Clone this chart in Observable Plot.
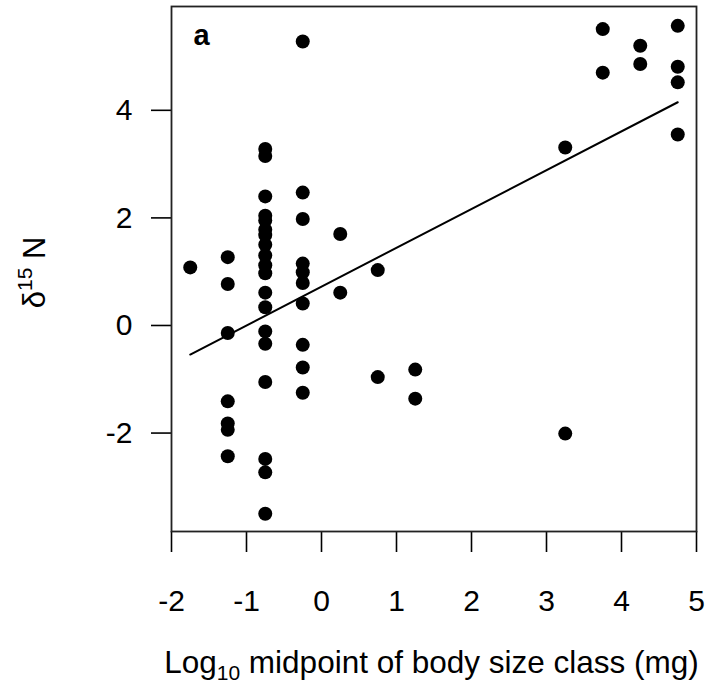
<!DOCTYPE html>
<html>
<head>
<meta charset="utf-8">
<script src="https://cdn.jsdelivr.net/npm/d3@7"></script>
<script src="https://cdn.jsdelivr.net/npm/@observablehq/plot@0.6"></script>
<style>
  html, body { margin: 0; padding: 0; background: #fff; }
  #chart svg { display: block; }
</style>
</head>
<body>
<div id="chart"></div>
<script>
// Body size class (log10 midpoint, mg) for each point
const sizeClass = [
  -1.75,
  -1.25, -1.25, -1.25, -1.25, -1.25, -1.25, -1.25,
  -0.75, -0.75, -0.75, -0.75, -0.75, -0.75, -0.75, -0.75, -0.75, -0.75,
  -0.75, -0.75, -0.75, -0.75, -0.75, -0.75, -0.75, -0.75, -0.75,
  -0.25, -0.25, -0.25, -0.25, -0.25, -0.25, -0.25, -0.25, -0.25, -0.25,
  0.25, 0.25,
  0.75, 0.75,
  1.25, 1.25,
  3.25, 3.25,
  3.75, 3.75,
  4.25, 4.25,
  4.75, 4.75, 4.75, 4.75
];
// delta 15N values
const d15N = [
  1.08,
  1.27, 0.77, -0.14, -1.41, -1.82, -1.94, -2.43,
  3.28, 3.15, 2.40, 2.04, 1.95, 1.78, 1.68, 1.50, 1.30, 1.12,
  0.97, 0.61, 0.34, -0.11, -0.34, -1.05, -2.48, -2.73, -3.50,
  5.28, 2.47, 1.98, 1.15, 0.99, 0.79, 0.41, -0.36, -0.78, -1.25,
  1.70, 0.61,
  1.03, -0.96,
  -0.82, -1.36,
  3.31, -2.01,
  5.51, 4.70,
  5.20, 4.86,
  5.57, 4.81, 4.52, 3.55
];
// fitted regression line (end points)
const fitX = [-1.75, 4.75];
const fitY = [-0.54, 4.15];
const xTicks = [-2, -1, 0, 1, 2, 3, 4, 5];
const yTicks = [-2, 0, 2, 4];
const panelLabel = ["a"];

const points = sizeClass.map((x, i) => ({x, y: d15N[i]}));
const fit = fitX.map((x, i) => ({x, y: fitY[i]}));

const W = 711, H = 686;
const mL = 171, mR = 15, mT = 6, mB = 155;
const fmt = d => d < 0 ? "-" + Math.abs(d) : String(d);

const chart = Plot.plot({
  width: W,
  height: H,
  marginLeft: mL,
  marginRight: mR,
  marginTop: mT,
  marginBottom: mB,
  style: {fontFamily: "'Liberation Sans', Arial, sans-serif", fontSize: "29px", color: "#000", background: "#fff"},
  x: {domain: [-2, 5]},
  y: {domain: [-3.83, 5.93]},
  marks: [
    Plot.axisX({ticks: xTicks, tickSize: 21, tickPadding: 37, label: null, tickFormat: fmt, fontSize: 30, strokeWidth: 1.6}),
    Plot.axisY({ticks: yTicks, tickSize: 20, tickPadding: 19, label: null, tickFormat: fmt, fontSize: 30, strokeWidth: 1.6}),
    Plot.frame({stroke: "#222", strokeWidth: 1.8}),
    Plot.line(fit, {x: "x", y: "y", stroke: "#000", strokeWidth: 2}),
    Plot.dot(points, {x: "x", y: "y", r: 7, fill: "#000", stroke: "none"}),
    Plot.text(panelLabel, {text: d => d, frameAnchor: "top-left", dx: 22, dy: 18, fontWeight: "bold", fontSize: 29, textAnchor: "start"})
  ]
});

const svg = d3.select(chart);
// force the large font on every numeric tick label
svg.selectAll("text").each(function () {
  const t = this.textContent.trim();
  if (/^-?\d+$/.test(t)) {
    this.setAttribute("font-size", "30");
    this.style.fontSize = "30px";
  }
});

// x-axis title with subscript
const xt = svg.append("text")
  .attr("x", (mL + (W - mR)) / 2 - 2)
  .attr("y", 673)
  .attr("text-anchor", "middle")
  .attr("font-size", 31.5)
  .attr("fill", "#000");
xt.append("tspan").text("Log");
xt.append("tspan").attr("font-size", 21).attr("dy", 7).text("10");
xt.append("tspan").attr("dy", -7).text(" midpoint of body size class (mg)");

// y-axis title with superscript
const yt = svg.append("text")
  .attr("transform", `translate(45, ${(mT + (H - mB)) / 2 + 4}) rotate(-90)`)
  .attr("text-anchor", "middle")
  .attr("font-size", 31)
  .attr("fill", "#000");
yt.append("tspan").text("δ");
yt.append("tspan").attr("font-size", 21).attr("dy", -13).text("15");
yt.append("tspan").attr("dy", 13).text(" N");

document.getElementById("chart").appendChild(chart);
</script>
</body>
</html>
